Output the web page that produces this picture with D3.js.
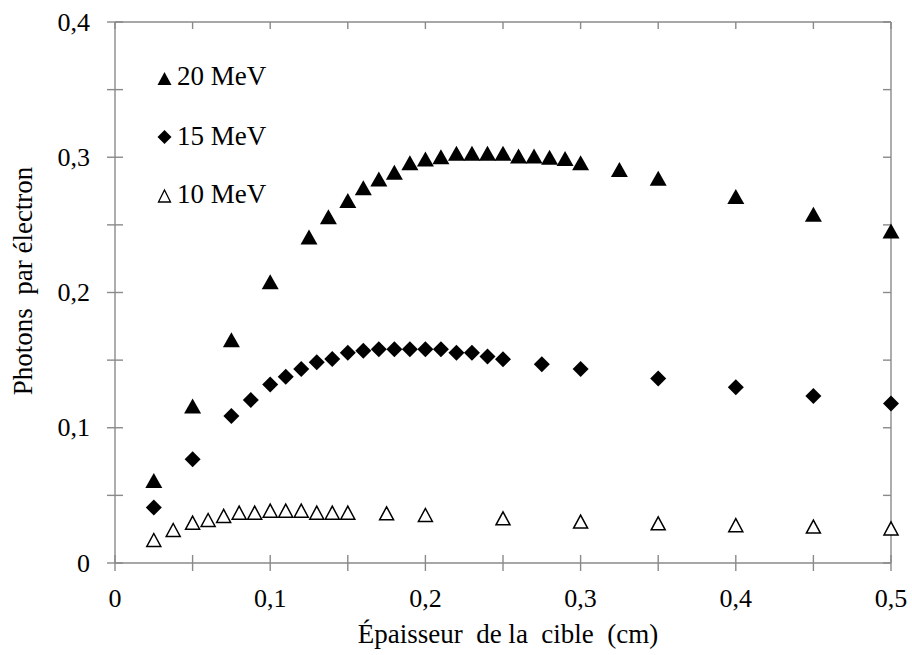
<!DOCTYPE html>
<html><head><meta charset="utf-8">
<script src="https://cdn.jsdelivr.net/npm/d3@7"></script>
<style>body{margin:0;background:#fff}svg{display:block}</style>
</head><body><svg id="c" width="912" height="655"></svg>
<script>
const xTicks = [0, 0.1, 0.2, 0.3, 0.4, 0.5];
const yTicks = [0, 0.1, 0.2, 0.3, 0.4];
const seriesNames = ["20 MeV", "15 MeV", "10 MeV"];
const x20 = [0.025,0.05,0.075,0.1,0.125,0.1375,0.15,0.16,0.17,0.18,0.19,0.2,0.21,0.22,0.23,0.24,0.25,0.26,0.27,0.28,0.29,0.3,0.325,0.35,0.4,0.45,0.5];
const y20 = [0.061,0.116,0.165,0.208,0.241,0.256,0.268,0.2775,0.284,0.289,0.296,0.2987,0.3004,0.303,0.303,0.303,0.303,0.301,0.301,0.300,0.299,0.296,0.291,0.2844,0.2709,0.2578,0.2455];
const x15 = [0.025,0.05,0.075,0.0875,0.1,0.11,0.12,0.13,0.14,0.15,0.16,0.17,0.18,0.19,0.2,0.21,0.22,0.23,0.24,0.25,0.275,0.3,0.35,0.4,0.45,0.5];
const y15 = [0.041,0.0767,0.1087,0.1205,0.132,0.1378,0.1434,0.1484,0.1508,0.1555,0.157,0.158,0.158,0.158,0.158,0.158,0.1555,0.1555,0.1526,0.1506,0.147,0.1434,0.1365,0.130,0.1235,0.118];
const x10 = [0.025,0.0375,0.05,0.06,0.07,0.08,0.09,0.1,0.11,0.12,0.13,0.14,0.15,0.175,0.2,0.25,0.3,0.35,0.4,0.45,0.5];
const y10 = [0.017,0.0244,0.0298,0.0318,0.0348,0.0372,0.0372,0.0387,0.0387,0.0387,0.0372,0.0372,0.0372,0.0367,0.0355,0.033,0.0306,0.0293,0.028,0.0269,0.0256];

const FONT = "Liberation Serif";
const svg = d3.select("#c");
const x = d3.scaleLinear().domain([0,0.5]).range([115,891]);
const y = d3.scaleLinear().domain([0,0.4]).range([563,22]);
const axisCol = "#8a8a8a";
const fmt = d => d===0 ? "0" : d3.format(".1f")(d).replace(".", ",");
const minor = d3.range(0, 0.5001, 0.05);
const minorY = d3.range(0, 0.4001, 0.05);

const g = svg.append("g").attr("stroke", axisCol).attr("stroke-width", 1.4);
g.append("line").attr("x1", x(0)).attr("x2", x(0.5)).attr("y1", y(0)).attr("y2", y(0));
g.append("line").attr("x1", x(0)).attr("x2", x(0)).attr("y1", y(0)).attr("y2", y(0.4));
g.append("line").attr("x1", x(0)).attr("x2", x(0.5)).attr("y1", y(0.4)).attr("y2", y(0.4));
g.append("line").attr("x1", x(0.5)).attr("x2", x(0.5)).attr("y1", y(0)).attr("y2", y(0.4));
g.selectAll(".bt").data(minor).join("line").attr("class","bt").attr("x1", d=>x(d)).attr("x2", d=>x(d)).attr("y1", y(0)-8).attr("y2", y(0)+8);
g.selectAll(".tt").data(minor).join("line").attr("class","tt").attr("x1", d=>x(d)).attr("x2", d=>x(d)).attr("y1", y(0.4)).attr("y2", y(0.4)+7);
g.selectAll(".lt").data(minorY).join("line").attr("class","lt").attr("y1", d=>y(d)).attr("y2", d=>y(d)).attr("x1", x(0)-8).attr("x2", x(0)+8);
g.selectAll(".rt").data(minorY).join("line").attr("class","rt").attr("y1", d=>y(d)).attr("y2", d=>y(d)).attr("x1", x(0.5)-8).attr("x2", x(0.5));

svg.selectAll(".xl").data(xTicks).join("text").attr("class","xl").attr("font-family", FONT)
  .attr("x", d=>x(d)).attr("y", 607).attr("text-anchor","middle").attr("font-size", 26).attr("fill","#000").text(fmt);
svg.selectAll(".yl").data(yTicks).join("text").attr("class","yl").attr("font-family", FONT)
  .attr("x", 90).attr("y", d=>y(d)+8.5).attr("text-anchor","end").attr("font-size", 26).attr("fill","#000").text(fmt);

svg.append("text").attr("font-family", FONT).attr("x", 508).attr("y", 643).attr("text-anchor","middle").attr("font-size", 27).attr("fill","#000")
  .attr("xml:space","preserve").style("white-space","pre").text("Épaisseur  de la  cible  (cm)");
svg.append("text").attr("font-family", FONT).attr("transform","translate(32,281) rotate(-90)").attr("text-anchor","middle").attr("font-size", 27).attr("fill","#000")
  .attr("xml:space","preserve").style("white-space","pre").text("Photons  par électron");

const dia = (s) => `M0,${-s}L${s},0L0,${s}L${-s},0Z`;
const triPath = (w, h) => `M0,${-h/2}L${w/2},${h/2}L${-w/2},${h/2}Z`;

const plot = svg.append("g");
plot.selectAll(".p20").data(x20).join("path").attr("class","p20")
  .attr("transform", (d,i)=>`translate(${x(d)},${y(y20[i])})`).attr("d", triPath(17, 15)).attr("fill","#000");
plot.selectAll(".p15").data(x15).join("path").attr("class","p15")
  .attr("transform", (d,i)=>`translate(${x(d)},${y(y15[i])})`).attr("d", dia(8)).attr("fill","#000");
plot.selectAll(".p10").data(x10).join("path").attr("class","p10")
  .attr("transform", (d,i)=>`translate(${x(d)},${y(y10[i])})`).attr("d", triPath(14, 13)).attr("fill","#fff").attr("stroke","#000").attr("stroke-width",1.5);

const leg = svg.append("g");
const legY = [85, 145, 203];
seriesNames.forEach((n,i)=>{
  const gg = leg.append("g").attr("transform", `translate(164.5,${legY[i]})`);
  if (i===0) gg.append("path").attr("d", triPath(14, 13)).attr("transform","translate(0,-6.5)").attr("fill","#000");
  if (i===1) gg.append("path").attr("d", dia(7)).attr("transform","translate(0,-8)").attr("fill","#000");
  if (i===2) gg.append("path").attr("d", triPath(12, 12)).attr("transform","translate(0,-7)").attr("fill","#fff").attr("stroke","#000").attr("stroke-width",1.3);
  gg.append("text").attr("font-family", FONT).attr("x", 12.5).attr("y", 0).attr("font-size", 27).attr("fill","#000").text(n);
});
</script></body></html>
